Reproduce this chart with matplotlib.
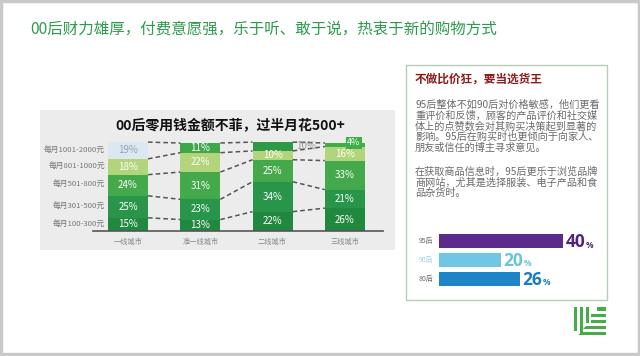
import matplotlib
matplotlib.use("Agg")
import matplotlib.pyplot as plt
from matplotlib.patches import Rectangle, Polygon

plt.rcParams['font.family'] = ['Noto Sans CJK SC', 'DejaVu Sans']

# ---------------- data ----------------
slide_title = "00后财力雄厚，付费意愿强，乐于听、敢于说，热衷于新的购物方式"
chart_title = "00后零用钱金额不菲，过半月花500+"
cities = ['一线城市', '准一线城市', '二线城市', '三线城市']
tiers = ['每月100-300元', '每月301-500元', '每月501-800元', '每月801-1000元', '每月1001-2000元']
v_100_300 = [15, 13, 22, 26]
v_301_500 = [25, 23, 34, 21]
v_501_800 = [24, 31, 25, 33]
v_801_1000 = [18, 22, 10, 16]
v_1001_2000 = [19, 11, 10, 4]

box_title = "不做比价狂，要当选货王"
para_lines_1 = ["95后整体不如90后对价格敏感，他们更看",
                "重评价和反馈，顾客的产品评价和社交媒",
                "体上的点赞数会对其购买决策起到显著的",
                "影响。95后在购买时也更倾向于向家人、",
                "朋友或信任的博主寻求意见。"]
para_lines_2 = ["在获取商品信息时，95后更乐于浏览品牌",
                "商网站，尤其是选择服装、电子产品和食",
                "品杂货时。"]
gens = ['95后', '90后', '80后']
gen_values = [40, 20, 26]

# ---------------- figure ----------------
W, H = 640, 356
fig = plt.figure(figsize=(W / 100, H / 100), dpi=100)
fig.patch.set_facecolor('white')


def px_axes(x0, y0, x1, y1, **kw):
    return fig.add_axes([x0 / W, 1 - y1 / H, (x1 - x0) / W, (y1 - y0) / H], **kw)


bg = fig.add_axes([0, 0, 1, 1])
bg.set_xlim(0, W)
bg.set_ylim(H, 0)
bg.axis('off')

# outer frame
bg.add_patch(Rectangle((1, 1), W - 2.5, H - 3, fill=False, ec='#c9c9c9', lw=2.5))

# slide title
bg.text(30, 30, slide_title, color='#2b9b4c', fontsize=11.2, va='center', ha='left')

# chart grey panel
bg.add_patch(Rectangle((40, 110), 355, 140, fc='#ececec', ec='none'))

# right info box
bg.add_patch(Rectangle((406, 65), 201, 235, fc='white', ec='#b8cdb8', lw=1))
bg.text(415, 79, box_title, color='#8e1b1b', fontsize=8.4, fontweight='bold', va='center')
for i, line in enumerate(para_lines_1):
    bg.text(415, 105 + i * 10.6, line, color='#6a6a6a', fontsize=7.3, va='center')
for i, line in enumerate(para_lines_2):
    bg.text(415, 172 + i * 10.6, line, color='#6a6a6a', fontsize=7.3, va='center')

# logo
lg = '#45ad48'
for xs, ys in [((574, 577), (307, 331)), ((580, 583), (307, 334)), ((586, 589), (307, 323))]:
    bg.add_patch(Rectangle((xs[0], ys[0]), xs[1] - xs[0], ys[1] - ys[0], fc=lg, ec='none'))
bg.add_patch(Rectangle((597, 307), 9, 4, fc=lg, ec='none'))
bg.add_patch(Rectangle((591, 314), 15, 3, fc=lg, ec='none'))
bg.add_patch(Rectangle((591, 320), 15, 3, fc=lg, ec='none'))
bg.add_patch(Polygon([(586, 326), (606, 326), (606, 329), (583, 329)], fc=lg, ec='none'))
bg.add_patch(Polygon([(582, 332), (606, 332), (606, 335), (578, 335)], fc=lg, ec='none'))

# ---------------- stacked bar chart ----------------
ax = px_axes(93, 131, 383, 231)
ax.set_facecolor('none')
ax.set_xlim(-0.484, 3.527)
ax.set_ylim(0, 100 / 0.88)
width = 0.555
layers = [v_100_300, v_301_500, v_501_800, v_801_1000, v_1001_2000]
layer_colors = ['#21893f', '#28954a', '#43a94b', '#b2d47a', None]
top_colors = ['#dde7f1', '#3ea849', '#2e9947', '#3fae49']
x = list(range(len(cities)))
bottoms = [0] * len(cities)
tops = []
for li, vals in enumerate(layers):
    cols = [layer_colors[li]] * len(cities) if layer_colors[li] else top_colors
    ax.bar(x, vals, width, bottom=bottoms, color=cols, edgecolor='none')
    for ci in x:
        yc = bottoms[ci] + vals[ci] / 2
        label = f"{vals[ci]}%"
        if li == 4 and ci == 0:
            ax.text(ci, yc, label, ha='center', va='center', fontsize=7, color='#8fa3ba')
        elif li == 4 and ci == 2:
            ax.text(ci + width / 2 + 0.05, yc + 1, label, ha='left', va='center',
                    fontsize=7, color='#9a9a9a')
        elif li == 4 and ci == 3:
            ax.text(ci + 0.12, yc + 2, label, ha='center', va='center', fontsize=6.5,
                    color='white', bbox=dict(boxstyle='square,pad=0.15', fc='#3fae49', ec='none'))
        else:
            ax.text(ci, yc, label, ha='center', va='center', fontsize=7, color='white')
    bottoms = [b + v for b, v in zip(bottoms, vals)]
    tops.append(list(bottoms))

# dashed connectors
for k in range(len(layers)):
    for ci in range(len(cities) - 1):
        ax.plot([ci + width / 2, ci + 1 - width / 2], [tops[k][ci], tops[k][ci + 1]],
                color='#555555', lw=1.1, ls=(0, (3, 2)), solid_capstyle='butt')

# tier labels
cum = 0
for ti, vals in enumerate(layers):
    ax.text(-0.32, cum + vals[0] / 2, tiers[ti], ha='right', va='center',
            fontsize=5.6, color='#777777')
    cum += vals[0]

ax.set_xticks(x)
ax.set_xticklabels(cities, fontsize=5.2, color='#888888')
ax.tick_params(axis='x', length=0, pad=5)
ax.set_yticks([])
for s in ['left', 'right', 'top']:
    ax.spines[s].set_visible(False)
ax.spines['bottom'].set_color('#555555')
ax.spines['bottom'].set_linewidth(1.2)

bg.text(230, 125, chart_title, ha='center', va='center', fontsize=10, fontweight='bold',
        color='#111111')

# ---------------- generation bars ----------------
ax2 = px_axes(439, 232, 600, 288)
ax2.set_facecolor('none')
ax2.axis('off')
ax2.set_xlim(0, 161 / 3.1)
ax2.set_ylim(2.5, -0.5)
bar_cols = ['#5b2a8b', '#6fc7e3', '#1f84c6']
label_cols = ['#6a6a6a', '#9fd3e6', '#6a6a6a']
num_cols = ['#4f2580', '#6cc2df', '#1d7cbd']
ax2.barh(range(len(gens)), gen_values, height=0.74, color=bar_cols)
for i, g in enumerate(gens):
    ax2.text(-1.8, i, g, ha='right', va='center', fontsize=5, color=label_cols[i])

fig.canvas.draw()
renderer = fig.canvas.get_renderer()
for i, v in enumerate(gen_values):
    t = ax2.text(v + 0.8, i + 0.05, f"{v}", ha='left', va='center', fontsize=12.5,
                 fontweight='bold', color=num_cols[i], family=['Open Sans', 'DejaVu Sans'])
    bb = t.get_window_extent(renderer)
    xd, _ = ax2.transData.inverted().transform((bb.x1, bb.y0))
    ax2.text(xd + 0.2, i + 0.2, "%", ha='left', va='center', fontsize=6,
             fontweight='bold', color=num_cols[i], family=['Open Sans', 'DejaVu Sans'])

fig.savefig('out.png', dpi=100)
